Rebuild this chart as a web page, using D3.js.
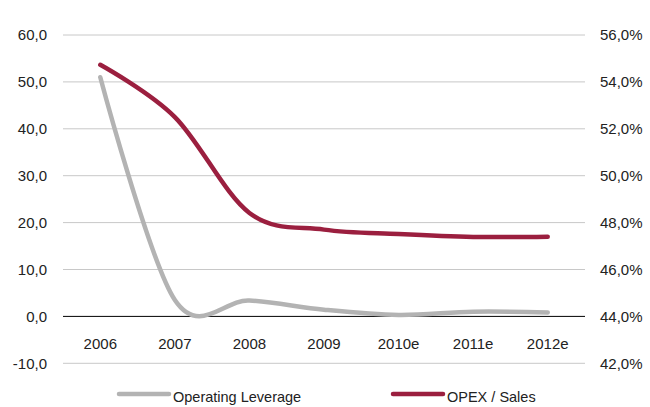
<!DOCTYPE html>
<html>
<head>
<meta charset="utf-8">
<script src="https://cdn.jsdelivr.net/npm/d3@7"></script>
<style>
  html, body { margin: 0; padding: 0; background: #fff; }
  svg { display: block; font-family: "Liberation Sans", Arial, sans-serif; }
</style>
</head>
<body>
<svg id="chart" width="650" height="407"></svg>
<script>
const categories = ["2006", "2007", "2008", "2009", "2010e", "2011e", "2012e"];
const operatingLeverage = [51.0, 3.5, 3.4, 1.43, 0.3, 1.0, 0.85];
const opexSales = [0.5473, 0.5250, 0.4841, 0.4770, 0.4751, 0.4739, 0.4740];
const leftTicks = [-10, 0, 10, 20, 30, 40, 50, 60];
const rightTicks = [0.42, 0.44, 0.46, 0.48, 0.50, 0.52, 0.54, 0.56];
const seriesNames = ["Operating Leverage", "OPEX / Sales"];

const locale = d3.formatLocale({decimal: ",", thousands: ".", grouping: [3], currency: ["", "€"], minus: "-"});
const fmtLeft = locale.format(".1f");
const fmtRight = locale.format(".1%");

const svg = d3.select("#chart");
const plot = {left: 63, right: 585, top: 35, bottom: 363.3};

const x = d3.scaleBand().domain(categories).range([plot.left, plot.right]);
const xc = c => x(c) + x.bandwidth() / 2;
const yL = d3.scaleLinear().domain([-10, 60]).range([plot.bottom, plot.top]);
const yR = d3.scaleLinear().domain([0.42, 0.56]).range([plot.bottom, plot.top]);

const grey = "#b3b3b3";
const red = "#9b1f3f";
const fontSize = 15;

// gridlines
svg.append("g").selectAll("line").data(leftTicks.filter(d => d !== 0)).join("line")
  .attr("x1", plot.left).attr("x2", plot.right)
  .attr("y1", d => yL(d)).attr("y2", d => yL(d))
  .attr("stroke", "#c8c8c8").attr("stroke-width", 1);

// left axis
const axL = svg.append("g").attr("transform", `translate(${plot.left},0)`)
  .call(d3.axisLeft(yL).tickValues(leftTicks).tickFormat(fmtLeft).tickSize(0).tickPadding(16));
axL.select(".domain").remove();
axL.selectAll("text").attr("font-size", fontSize).attr("fill", "#222").attr("font-family", "Liberation Sans, Arial, sans-serif");

// right axis
const axR = svg.append("g").attr("transform", `translate(${plot.right},0)`)
  .call(d3.axisRight(yR).tickValues(rightTicks).tickFormat(fmtRight).tickSize(0).tickPadding(15));
axR.select(".domain").remove();
axR.selectAll("text").attr("font-size", fontSize).attr("fill", "#222").attr("font-family", "Liberation Sans, Arial, sans-serif");

// x axis at zero
const axX = svg.append("g").attr("transform", `translate(0,${yL(0)})`)
  .call(d3.axisBottom(x).tickSize(0).tickPadding(22));
axX.select(".domain").remove();
axX.selectAll("text").attr("font-size", fontSize).attr("fill", "#222").attr("font-family", "Liberation Sans, Arial, sans-serif");
svg.append("line").attr("x1", plot.left).attr("x2", plot.right)
  .attr("y1", yL(0)).attr("y2", yL(0)).attr("stroke", "#000").attr("stroke-width", 1);

// lines
const curve = d3.curveCatmullRom.alpha(0);
const lineL = d3.line().x((d, i) => xc(categories[i])).y(d => yL(d)).curve(curve);
const lineR = d3.line().x((d, i) => xc(categories[i])).y(d => yR(d)).curve(curve);

svg.append("path").datum(operatingLeverage).attr("d", lineL)
  .attr("fill", "none").attr("stroke", grey).attr("stroke-width", 4.5)
  .attr("stroke-linecap", "round").attr("stroke-linejoin", "round");
svg.append("path").datum(opexSales).attr("d", lineR)
  .attr("fill", "none").attr("stroke", red).attr("stroke-width", 4.5)
  .attr("stroke-linecap", "round").attr("stroke-linejoin", "round");

// legend
const legend = [
  {name: seriesNames[0], color: grey, x: 119},
  {name: seriesNames[1], color: red, x: 393}
];
const lg = svg.append("g");
legend.forEach(l => {
  lg.append("line").attr("x1", l.x).attr("x2", l.x + 50).attr("y1", 394).attr("y2", 394)
    .attr("stroke", l.color).attr("stroke-width", 4.5).attr("stroke-linecap", "round");
  lg.append("text").attr("x", l.x + 54).attr("y", 402).attr("font-size", 14.5)
    .attr("fill", "#222").text(l.name);
});
</script>
</body>
</html>
